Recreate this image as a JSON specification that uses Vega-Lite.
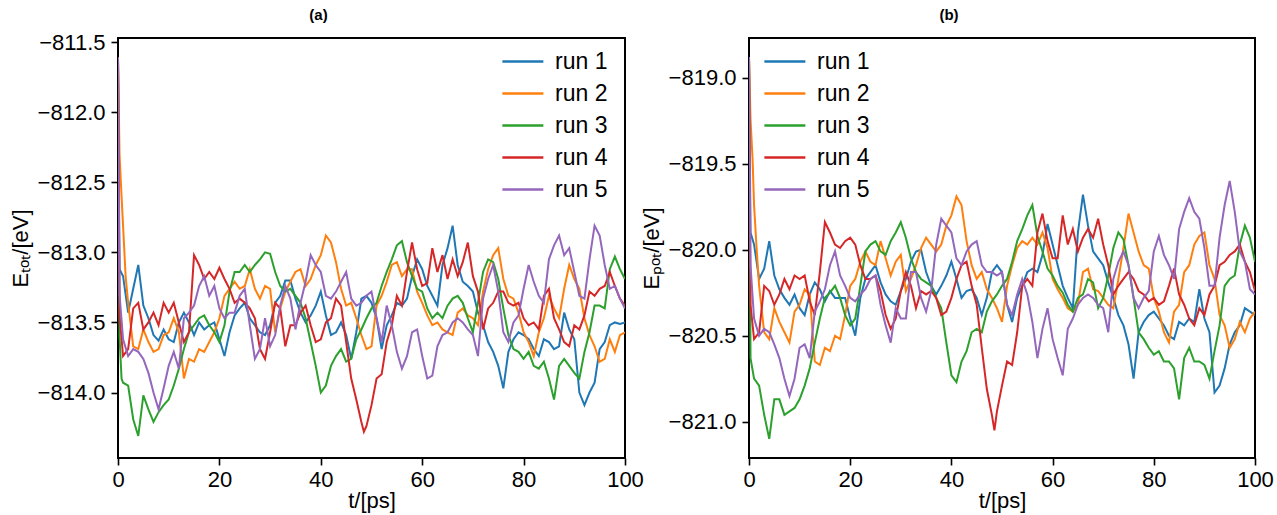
{
"$schema": "https://vega.github.io/schema/vega-lite/v6.json",
"background": "white",
"autosize": {"type": "pad"},
"padding": {"left": 8, "top": 7, "right": 5, "bottom": 2},
"config": {
  "font": "Liberation Sans",
  "view": {"stroke": "black", "strokeWidth": 2},
  "axis": {"domain": false, "grid": false, "ticks": true, "tickColor": "black", "tickSize": 7, "tickWidth": 1.6, "labelFont": "Liberation Sans", "labelFontSize": 22, "labelColor": "black", "titleFont": "Liberation Sans", "titleFontSize": 22, "titleFontWeight": "normal", "titleColor": "black"},
  "legend": {"symbolType": "M-1,0H7", "symbolSize": 105, "symbolStrokeWidth": 2.5, "labelFont": "Liberation Sans", "labelFontSize": 23, "labelColor": "black", "labelOffset": 36, "rowPadding": 8, "padding": 0},
  "title": {"font": "Liberation Sans", "fontSize": 15, "fontWeight": "bold", "offset": 15, "color": "black", "dx": -53, "frame": "group"}
},
"datasets": {
"a": [
{"t":0,"r":"run 1","E":-811.61},{"t":0.3,"r":"run 1","E":-813.12},{"t":1,"r":"run 1","E":-813.17},{"t":2,"r":"run 1","E":-813.43},{"t":3,"r":"run 1","E":-813.26},{"t":4,"r":"run 1","E":-813.09},{"t":5,"r":"run 1","E":-813.38},{"t":6,"r":"run 1","E":-813.47},{"t":7,"r":"run 1","E":-813.59},{"t":8,"r":"run 1","E":-813.63},{"t":9,"r":"run 1","E":-813.55},{"t":10,"r":"run 1","E":-813.62},{"t":11,"r":"run 1","E":-813.64},{"t":12,"r":"run 1","E":-813.5},{"t":13,"r":"run 1","E":-813.43},{"t":14,"r":"run 1","E":-813.5},{"t":15,"r":"run 1","E":-813.59},{"t":16,"r":"run 1","E":-813.5},{"t":17,"r":"run 1","E":-813.55},{"t":18,"r":"run 1","E":-813.52},{"t":19,"r":"run 1","E":-813.5},{"t":20,"r":"run 1","E":-813.62},{"t":21,"r":"run 1","E":-813.74},{"t":22,"r":"run 1","E":-813.57},{"t":23,"r":"run 1","E":-813.45},{"t":24,"r":"run 1","E":-813.4},{"t":25,"r":"run 1","E":-813.36},{"t":26,"r":"run 1","E":-813.47},{"t":27,"r":"run 1","E":-813.52},{"t":28,"r":"run 1","E":-813.57},{"t":29,"r":"run 1","E":-813.59},{"t":30,"r":"run 1","E":-813.52},{"t":31,"r":"run 1","E":-813.36},{"t":32,"r":"run 1","E":-813.31},{"t":33,"r":"run 1","E":-813.2},{"t":34,"r":"run 1","E":-813.2},{"t":35,"r":"run 1","E":-813.33},{"t":36,"r":"run 1","E":-813.43},{"t":37,"r":"run 1","E":-813.5},{"t":38,"r":"run 1","E":-813.45},{"t":39,"r":"run 1","E":-813.38},{"t":40,"r":"run 1","E":-813.28},{"t":41,"r":"run 1","E":-813.45},{"t":42,"r":"run 1","E":-813.59},{"t":43,"r":"run 1","E":-813.57},{"t":44,"r":"run 1","E":-813.5},{"t":45,"r":"run 1","E":-813.59},{"t":46,"r":"run 1","E":-813.76},{"t":47,"r":"run 1","E":-813.57},{"t":48,"r":"run 1","E":-813.33},{"t":49,"r":"run 1","E":-813.31},{"t":50,"r":"run 1","E":-813.36},{"t":51,"r":"run 1","E":-813.47},{"t":52,"r":"run 1","E":-813.69},{"t":53,"r":"run 1","E":-813.52},{"t":54,"r":"run 1","E":-813.45},{"t":55,"r":"run 1","E":-813.36},{"t":56,"r":"run 1","E":-813.38},{"t":57,"r":"run 1","E":-813.33},{"t":58,"r":"run 1","E":-813.17},{"t":59,"r":"run 1","E":-813.05},{"t":60,"r":"run 1","E":-813.12},{"t":61,"r":"run 1","E":-813.24},{"t":62,"r":"run 1","E":-813.31},{"t":63,"r":"run 1","E":-813.38},{"t":64,"r":"run 1","E":-813.09},{"t":65,"r":"run 1","E":-812.97},{"t":66,"r":"run 1","E":-812.81},{"t":67,"r":"run 1","E":-813.09},{"t":68,"r":"run 1","E":-813.21},{"t":69,"r":"run 1","E":-813.24},{"t":70,"r":"run 1","E":-813.28},{"t":71,"r":"run 1","E":-813.43},{"t":72,"r":"run 1","E":-813.52},{"t":73,"r":"run 1","E":-813.64},{"t":74,"r":"run 1","E":-813.71},{"t":75,"r":"run 1","E":-813.81},{"t":76,"r":"run 1","E":-813.97},{"t":77,"r":"run 1","E":-813.71},{"t":78,"r":"run 1","E":-813.62},{"t":79,"r":"run 1","E":-813.57},{"t":80,"r":"run 1","E":-813.59},{"t":81,"r":"run 1","E":-813.62},{"t":82,"r":"run 1","E":-813.69},{"t":83,"r":"run 1","E":-813.74},{"t":84,"r":"run 1","E":-813.62},{"t":85,"r":"run 1","E":-813.64},{"t":86,"r":"run 1","E":-813.69},{"t":87,"r":"run 1","E":-813.67},{"t":88,"r":"run 1","E":-813.43},{"t":89,"r":"run 1","E":-813.55},{"t":90,"r":"run 1","E":-813.62},{"t":91,"r":"run 1","E":-814.0},{"t":92,"r":"run 1","E":-814.09},{"t":93,"r":"run 1","E":-814.0},{"t":94,"r":"run 1","E":-813.93},{"t":95,"r":"run 1","E":-813.69},{"t":96,"r":"run 1","E":-813.64},{"t":97,"r":"run 1","E":-813.52},{"t":98,"r":"run 1","E":-813.5},{"t":99,"r":"run 1","E":-813.51},{"t":100,"r":"run 1","E":-813.5},
{"t":0,"r":"run 2","E":-811.61},{"t":0.3,"r":"run 2","E":-812.3},{"t":0.7,"r":"run 2","E":-812.6},{"t":1,"r":"run 2","E":-812.81},{"t":1.5,"r":"run 2","E":-813.17},{"t":2,"r":"run 2","E":-813.36},{"t":3,"r":"run 2","E":-813.67},{"t":4,"r":"run 2","E":-813.69},{"t":5,"r":"run 2","E":-813.55},{"t":6,"r":"run 2","E":-813.64},{"t":7,"r":"run 2","E":-813.71},{"t":8,"r":"run 2","E":-813.69},{"t":9,"r":"run 2","E":-813.59},{"t":10,"r":"run 2","E":-813.57},{"t":11,"r":"run 2","E":-813.47},{"t":12,"r":"run 2","E":-813.57},{"t":13,"r":"run 2","E":-813.9},{"t":14,"r":"run 2","E":-813.76},{"t":15,"r":"run 2","E":-813.78},{"t":16,"r":"run 2","E":-813.69},{"t":17,"r":"run 2","E":-813.71},{"t":18,"r":"run 2","E":-813.64},{"t":19,"r":"run 2","E":-813.57},{"t":20,"r":"run 2","E":-813.47},{"t":21,"r":"run 2","E":-813.31},{"t":22,"r":"run 2","E":-813.26},{"t":23,"r":"run 2","E":-813.21},{"t":24,"r":"run 2","E":-813.26},{"t":25,"r":"run 2","E":-813.24},{"t":26,"r":"run 2","E":-813.12},{"t":27,"r":"run 2","E":-813.26},{"t":28,"r":"run 2","E":-813.33},{"t":29,"r":"run 2","E":-813.24},{"t":30,"r":"run 2","E":-813.26},{"t":31,"r":"run 2","E":-813.57},{"t":32,"r":"run 2","E":-813.4},{"t":33,"r":"run 2","E":-813.28},{"t":34,"r":"run 2","E":-813.21},{"t":35,"r":"run 2","E":-813.14},{"t":36,"r":"run 2","E":-813.12},{"t":37,"r":"run 2","E":-813.24},{"t":38,"r":"run 2","E":-813.19},{"t":39,"r":"run 2","E":-813.09},{"t":40,"r":"run 2","E":-813.02},{"t":41,"r":"run 2","E":-812.88},{"t":42,"r":"run 2","E":-812.93},{"t":43,"r":"run 2","E":-813.07},{"t":44,"r":"run 2","E":-813.26},{"t":45,"r":"run 2","E":-813.38},{"t":46,"r":"run 2","E":-813.36},{"t":47,"r":"run 2","E":-813.47},{"t":48,"r":"run 2","E":-813.59},{"t":49,"r":"run 2","E":-813.69},{"t":50,"r":"run 2","E":-813.67},{"t":51,"r":"run 2","E":-813.38},{"t":52,"r":"run 2","E":-813.31},{"t":53,"r":"run 2","E":-813.21},{"t":54,"r":"run 2","E":-813.09},{"t":55,"r":"run 2","E":-813.07},{"t":56,"r":"run 2","E":-813.17},{"t":57,"r":"run 2","E":-813.12},{"t":58,"r":"run 2","E":-813.12},{"t":59,"r":"run 2","E":-813.28},{"t":60,"r":"run 2","E":-813.36},{"t":61,"r":"run 2","E":-813.45},{"t":62,"r":"run 2","E":-813.52},{"t":63,"r":"run 2","E":-813.5},{"t":64,"r":"run 2","E":-813.55},{"t":65,"r":"run 2","E":-813.57},{"t":66,"r":"run 2","E":-813.59},{"t":67,"r":"run 2","E":-813.43},{"t":68,"r":"run 2","E":-813.4},{"t":69,"r":"run 2","E":-813.45},{"t":70,"r":"run 2","E":-813.47},{"t":71,"r":"run 2","E":-813.52},{"t":72,"r":"run 2","E":-813.28},{"t":73,"r":"run 2","E":-813.12},{"t":74,"r":"run 2","E":-813.02},{"t":75,"r":"run 2","E":-812.97},{"t":76,"r":"run 2","E":-813.19},{"t":77,"r":"run 2","E":-813.31},{"t":78,"r":"run 2","E":-813.33},{"t":79,"r":"run 2","E":-813.43},{"t":80,"r":"run 2","E":-813.57},{"t":81,"r":"run 2","E":-813.64},{"t":82,"r":"run 2","E":-813.74},{"t":83,"r":"run 2","E":-813.57},{"t":84,"r":"run 2","E":-813.47},{"t":85,"r":"run 2","E":-813.31},{"t":86,"r":"run 2","E":-813.4},{"t":87,"r":"run 2","E":-813.47},{"t":88,"r":"run 2","E":-813.26},{"t":89,"r":"run 2","E":-813.09},{"t":90,"r":"run 2","E":-813.19},{"t":91,"r":"run 2","E":-813.26},{"t":92,"r":"run 2","E":-813.47},{"t":93,"r":"run 2","E":-813.59},{"t":94,"r":"run 2","E":-813.67},{"t":95,"r":"run 2","E":-813.78},{"t":96,"r":"run 2","E":-813.76},{"t":97,"r":"run 2","E":-813.62},{"t":98,"r":"run 2","E":-813.71},{"t":99,"r":"run 2","E":-813.59},{"t":100,"r":"run 2","E":-813.57},
{"t":0,"r":"run 3","E":-811.61},{"t":0.3,"r":"run 3","E":-813.6},{"t":0.7,"r":"run 3","E":-813.9},{"t":1,"r":"run 3","E":-813.93},{"t":2,"r":"run 3","E":-813.95},{"t":3,"r":"run 3","E":-814.19},{"t":4,"r":"run 3","E":-814.31},{"t":5,"r":"run 3","E":-814.02},{"t":6,"r":"run 3","E":-814.12},{"t":7,"r":"run 3","E":-814.21},{"t":8,"r":"run 3","E":-814.14},{"t":9,"r":"run 3","E":-814.09},{"t":10,"r":"run 3","E":-814.05},{"t":11,"r":"run 3","E":-813.95},{"t":12,"r":"run 3","E":-813.83},{"t":13,"r":"run 3","E":-813.69},{"t":14,"r":"run 3","E":-813.57},{"t":15,"r":"run 3","E":-813.52},{"t":16,"r":"run 3","E":-813.47},{"t":17,"r":"run 3","E":-813.45},{"t":18,"r":"run 3","E":-813.52},{"t":19,"r":"run 3","E":-813.57},{"t":20,"r":"run 3","E":-813.64},{"t":21,"r":"run 3","E":-813.52},{"t":22,"r":"run 3","E":-813.28},{"t":23,"r":"run 3","E":-813.14},{"t":24,"r":"run 3","E":-813.14},{"t":25,"r":"run 3","E":-813.09},{"t":26,"r":"run 3","E":-813.14},{"t":27,"r":"run 3","E":-813.09},{"t":28,"r":"run 3","E":-813.05},{"t":29,"r":"run 3","E":-813.0},{"t":30,"r":"run 3","E":-813.01},{"t":31,"r":"run 3","E":-813.14},{"t":32,"r":"run 3","E":-813.24},{"t":33,"r":"run 3","E":-813.28},{"t":34,"r":"run 3","E":-813.26},{"t":35,"r":"run 3","E":-813.31},{"t":36,"r":"run 3","E":-813.36},{"t":37,"r":"run 3","E":-813.47},{"t":38,"r":"run 3","E":-813.64},{"t":39,"r":"run 3","E":-813.81},{"t":40,"r":"run 3","E":-814.0},{"t":41,"r":"run 3","E":-813.95},{"t":42,"r":"run 3","E":-813.81},{"t":43,"r":"run 3","E":-813.74},{"t":44,"r":"run 3","E":-813.69},{"t":45,"r":"run 3","E":-813.78},{"t":46,"r":"run 3","E":-813.76},{"t":47,"r":"run 3","E":-813.62},{"t":48,"r":"run 3","E":-813.55},{"t":49,"r":"run 3","E":-813.47},{"t":50,"r":"run 3","E":-813.4},{"t":51,"r":"run 3","E":-813.36},{"t":52,"r":"run 3","E":-813.24},{"t":53,"r":"run 3","E":-813.14},{"t":54,"r":"run 3","E":-813.05},{"t":55,"r":"run 3","E":-812.95},{"t":56,"r":"run 3","E":-812.92},{"t":57,"r":"run 3","E":-813.07},{"t":58,"r":"run 3","E":-813.17},{"t":59,"r":"run 3","E":-813.26},{"t":60,"r":"run 3","E":-813.28},{"t":61,"r":"run 3","E":-813.4},{"t":62,"r":"run 3","E":-813.47},{"t":63,"r":"run 3","E":-813.43},{"t":64,"r":"run 3","E":-813.47},{"t":65,"r":"run 3","E":-813.38},{"t":66,"r":"run 3","E":-813.33},{"t":67,"r":"run 3","E":-813.31},{"t":68,"r":"run 3","E":-813.36},{"t":69,"r":"run 3","E":-813.47},{"t":70,"r":"run 3","E":-813.57},{"t":71,"r":"run 3","E":-813.36},{"t":72,"r":"run 3","E":-813.14},{"t":73,"r":"run 3","E":-813.05},{"t":74,"r":"run 3","E":-813.07},{"t":75,"r":"run 3","E":-813.19},{"t":76,"r":"run 3","E":-813.4},{"t":77,"r":"run 3","E":-813.59},{"t":78,"r":"run 3","E":-813.69},{"t":79,"r":"run 3","E":-813.71},{"t":80,"r":"run 3","E":-813.76},{"t":81,"r":"run 3","E":-813.71},{"t":82,"r":"run 3","E":-813.81},{"t":83,"r":"run 3","E":-813.83},{"t":84,"r":"run 3","E":-813.78},{"t":85,"r":"run 3","E":-813.9},{"t":86,"r":"run 3","E":-814.05},{"t":87,"r":"run 3","E":-813.81},{"t":88,"r":"run 3","E":-813.76},{"t":89,"r":"run 3","E":-813.81},{"t":90,"r":"run 3","E":-813.86},{"t":91,"r":"run 3","E":-813.9},{"t":92,"r":"run 3","E":-813.71},{"t":93,"r":"run 3","E":-813.57},{"t":94,"r":"run 3","E":-813.38},{"t":95,"r":"run 3","E":-813.38},{"t":96,"r":"run 3","E":-813.4},{"t":97,"r":"run 3","E":-813.12},{"t":98,"r":"run 3","E":-813.03},{"t":99,"r":"run 3","E":-813.12},{"t":100,"r":"run 3","E":-813.19},
{"t":0,"r":"run 4","E":-811.61},{"t":0.3,"r":"run 4","E":-813.45},{"t":1,"r":"run 4","E":-813.74},{"t":2,"r":"run 4","E":-813.69},{"t":3,"r":"run 4","E":-813.4},{"t":4,"r":"run 4","E":-813.36},{"t":5,"r":"run 4","E":-813.55},{"t":6,"r":"run 4","E":-813.5},{"t":7,"r":"run 4","E":-813.43},{"t":8,"r":"run 4","E":-813.52},{"t":9,"r":"run 4","E":-813.36},{"t":10,"r":"run 4","E":-813.43},{"t":11,"r":"run 4","E":-813.36},{"t":12,"r":"run 4","E":-813.5},{"t":13,"r":"run 4","E":-813.64},{"t":14,"r":"run 4","E":-813.57},{"t":15,"r":"run 4","E":-813.02},{"t":16,"r":"run 4","E":-813.09},{"t":17,"r":"run 4","E":-813.19},{"t":18,"r":"run 4","E":-813.14},{"t":19,"r":"run 4","E":-813.19},{"t":20,"r":"run 4","E":-813.11},{"t":21,"r":"run 4","E":-813.19},{"t":22,"r":"run 4","E":-813.26},{"t":23,"r":"run 4","E":-813.36},{"t":24,"r":"run 4","E":-813.33},{"t":25,"r":"run 4","E":-813.36},{"t":26,"r":"run 4","E":-813.4},{"t":27,"r":"run 4","E":-813.47},{"t":28,"r":"run 4","E":-813.69},{"t":29,"r":"run 4","E":-813.76},{"t":30,"r":"run 4","E":-813.57},{"t":31,"r":"run 4","E":-813.36},{"t":32,"r":"run 4","E":-813.4},{"t":33,"r":"run 4","E":-813.67},{"t":34,"r":"run 4","E":-813.52},{"t":35,"r":"run 4","E":-813.52},{"t":36,"r":"run 4","E":-813.43},{"t":37,"r":"run 4","E":-813.38},{"t":38,"r":"run 4","E":-813.52},{"t":39,"r":"run 4","E":-813.64},{"t":40,"r":"run 4","E":-813.62},{"t":41,"r":"run 4","E":-813.5},{"t":42,"r":"run 4","E":-813.47},{"t":43,"r":"run 4","E":-813.33},{"t":44,"r":"run 4","E":-813.38},{"t":45,"r":"run 4","E":-813.64},{"t":46,"r":"run 4","E":-813.9},{"t":47,"r":"run 4","E":-814.05},{"t":48,"r":"run 4","E":-814.21},{"t":48.5,"r":"run 4","E":-814.28},{"t":49,"r":"run 4","E":-814.24},{"t":50,"r":"run 4","E":-814.09},{"t":51,"r":"run 4","E":-813.9},{"t":52,"r":"run 4","E":-813.87},{"t":53,"r":"run 4","E":-813.64},{"t":54,"r":"run 4","E":-813.52},{"t":55,"r":"run 4","E":-813.31},{"t":56,"r":"run 4","E":-813.38},{"t":57,"r":"run 4","E":-813.14},{"t":58,"r":"run 4","E":-812.93},{"t":59,"r":"run 4","E":-813.12},{"t":60,"r":"run 4","E":-813.24},{"t":61,"r":"run 4","E":-813.22},{"t":62,"r":"run 4","E":-812.97},{"t":63,"r":"run 4","E":-813.14},{"t":64,"r":"run 4","E":-813.02},{"t":65,"r":"run 4","E":-813.19},{"t":66,"r":"run 4","E":-813.05},{"t":67,"r":"run 4","E":-813.17},{"t":68,"r":"run 4","E":-813.07},{"t":69,"r":"run 4","E":-812.93},{"t":70,"r":"run 4","E":-813.17},{"t":71,"r":"run 4","E":-813.28},{"t":72,"r":"run 4","E":-813.55},{"t":73,"r":"run 4","E":-813.4},{"t":74,"r":"run 4","E":-813.36},{"t":75,"r":"run 4","E":-813.28},{"t":76,"r":"run 4","E":-813.28},{"t":77,"r":"run 4","E":-813.36},{"t":78,"r":"run 4","E":-813.38},{"t":79,"r":"run 4","E":-813.36},{"t":80,"r":"run 4","E":-813.47},{"t":81,"r":"run 4","E":-813.52},{"t":82,"r":"run 4","E":-813.5},{"t":83,"r":"run 4","E":-813.55},{"t":84,"r":"run 4","E":-813.31},{"t":85,"r":"run 4","E":-813.26},{"t":86,"r":"run 4","E":-813.47},{"t":87,"r":"run 4","E":-813.55},{"t":88,"r":"run 4","E":-813.64},{"t":89,"r":"run 4","E":-813.67},{"t":90,"r":"run 4","E":-813.52},{"t":91,"r":"run 4","E":-813.55},{"t":92,"r":"run 4","E":-813.45},{"t":93,"r":"run 4","E":-813.28},{"t":94,"r":"run 4","E":-813.31},{"t":95,"r":"run 4","E":-813.26},{"t":96,"r":"run 4","E":-813.24},{"t":97,"r":"run 4","E":-813.14},{"t":98,"r":"run 4","E":-813.24},{"t":99,"r":"run 4","E":-813.33},{"t":100,"r":"run 4","E":-813.38},
{"t":0,"r":"run 5","E":-811.61},{"t":0.3,"r":"run 5","E":-813.3},{"t":1,"r":"run 5","E":-813.62},{"t":2,"r":"run 5","E":-813.74},{"t":3,"r":"run 5","E":-813.69},{"t":4,"r":"run 5","E":-813.71},{"t":5,"r":"run 5","E":-813.76},{"t":6,"r":"run 5","E":-813.86},{"t":7,"r":"run 5","E":-814.0},{"t":8,"r":"run 5","E":-814.12},{"t":9,"r":"run 5","E":-813.97},{"t":10,"r":"run 5","E":-813.81},{"t":11,"r":"run 5","E":-813.71},{"t":12,"r":"run 5","E":-813.83},{"t":13,"r":"run 5","E":-813.47},{"t":14,"r":"run 5","E":-813.43},{"t":15,"r":"run 5","E":-813.38},{"t":16,"r":"run 5","E":-813.24},{"t":17,"r":"run 5","E":-813.17},{"t":18,"r":"run 5","E":-813.31},{"t":19,"r":"run 5","E":-813.24},{"t":20,"r":"run 5","E":-813.4},{"t":21,"r":"run 5","E":-813.47},{"t":22,"r":"run 5","E":-813.43},{"t":23,"r":"run 5","E":-813.43},{"t":24,"r":"run 5","E":-813.31},{"t":25,"r":"run 5","E":-813.26},{"t":26,"r":"run 5","E":-813.52},{"t":27,"r":"run 5","E":-813.76},{"t":28,"r":"run 5","E":-813.69},{"t":29,"r":"run 5","E":-813.47},{"t":30,"r":"run 5","E":-813.67},{"t":31,"r":"run 5","E":-813.59},{"t":32,"r":"run 5","E":-813.38},{"t":33,"r":"run 5","E":-813.24},{"t":34,"r":"run 5","E":-813.33},{"t":35,"r":"run 5","E":-813.55},{"t":36,"r":"run 5","E":-813.36},{"t":37,"r":"run 5","E":-813.21},{"t":38,"r":"run 5","E":-813.02},{"t":39,"r":"run 5","E":-813.09},{"t":40,"r":"run 5","E":-813.14},{"t":41,"r":"run 5","E":-813.31},{"t":42,"r":"run 5","E":-813.33},{"t":43,"r":"run 5","E":-813.28},{"t":44,"r":"run 5","E":-813.21},{"t":45,"r":"run 5","E":-813.14},{"t":46,"r":"run 5","E":-813.33},{"t":47,"r":"run 5","E":-813.38},{"t":48,"r":"run 5","E":-813.36},{"t":49,"r":"run 5","E":-813.31},{"t":50,"r":"run 5","E":-813.28},{"t":51,"r":"run 5","E":-813.47},{"t":52,"r":"run 5","E":-813.64},{"t":53,"r":"run 5","E":-813.38},{"t":54,"r":"run 5","E":-813.52},{"t":55,"r":"run 5","E":-813.71},{"t":56,"r":"run 5","E":-813.83},{"t":57,"r":"run 5","E":-813.74},{"t":58,"r":"run 5","E":-813.57},{"t":59,"r":"run 5","E":-813.55},{"t":60,"r":"run 5","E":-813.74},{"t":61,"r":"run 5","E":-813.9},{"t":62,"r":"run 5","E":-813.88},{"t":63,"r":"run 5","E":-813.67},{"t":64,"r":"run 5","E":-813.59},{"t":65,"r":"run 5","E":-813.57},{"t":66,"r":"run 5","E":-813.5},{"t":67,"r":"run 5","E":-813.47},{"t":68,"r":"run 5","E":-813.5},{"t":69,"r":"run 5","E":-813.55},{"t":70,"r":"run 5","E":-813.59},{"t":71,"r":"run 5","E":-813.74},{"t":72,"r":"run 5","E":-813.33},{"t":73,"r":"run 5","E":-813.19},{"t":74,"r":"run 5","E":-813.09},{"t":75,"r":"run 5","E":-813.28},{"t":76,"r":"run 5","E":-813.57},{"t":77,"r":"run 5","E":-813.64},{"t":78,"r":"run 5","E":-813.5},{"t":79,"r":"run 5","E":-813.45},{"t":80,"r":"run 5","E":-813.26},{"t":81,"r":"run 5","E":-813.09},{"t":82,"r":"run 5","E":-813.21},{"t":83,"r":"run 5","E":-813.31},{"t":84,"r":"run 5","E":-813.36},{"t":85,"r":"run 5","E":-813.05},{"t":86,"r":"run 5","E":-812.95},{"t":87,"r":"run 5","E":-812.88},{"t":88,"r":"run 5","E":-813.02},{"t":89,"r":"run 5","E":-812.97},{"t":90,"r":"run 5","E":-813.14},{"t":91,"r":"run 5","E":-813.31},{"t":92,"r":"run 5","E":-813.33},{"t":93,"r":"run 5","E":-813.05},{"t":94,"r":"run 5","E":-812.81},{"t":95,"r":"run 5","E":-812.88},{"t":96,"r":"run 5","E":-813.09},{"t":97,"r":"run 5","E":-813.26},{"t":98,"r":"run 5","E":-813.24},{"t":99,"r":"run 5","E":-813.33},{"t":100,"r":"run 5","E":-813.4}
],
"b": [
{"t":0,"r":"run 1","E":-818.88},{"t":0.3,"r":"run 1","E":-819.9},{"t":1,"r":"run 1","E":-819.97},{"t":2,"r":"run 1","E":-820.17},{"t":3,"r":"run 1","E":-820.11},{"t":4,"r":"run 1","E":-819.95},{"t":5,"r":"run 1","E":-820.15},{"t":6,"r":"run 1","E":-820.23},{"t":7,"r":"run 1","E":-820.28},{"t":8,"r":"run 1","E":-820.32},{"t":9,"r":"run 1","E":-820.26},{"t":10,"r":"run 1","E":-820.34},{"t":11,"r":"run 1","E":-820.38},{"t":12,"r":"run 1","E":-820.26},{"t":13,"r":"run 1","E":-820.19},{"t":14,"r":"run 1","E":-820.23},{"t":15,"r":"run 1","E":-820.3},{"t":16,"r":"run 1","E":-820.24},{"t":17,"r":"run 1","E":-820.28},{"t":18,"r":"run 1","E":-820.28},{"t":19,"r":"run 1","E":-820.28},{"t":20,"r":"run 1","E":-820.4},{"t":21,"r":"run 1","E":-820.5},{"t":22,"r":"run 1","E":-820.28},{"t":23,"r":"run 1","E":-820.17},{"t":24,"r":"run 1","E":-820.13},{"t":25,"r":"run 1","E":-820.09},{"t":26,"r":"run 1","E":-820.19},{"t":27,"r":"run 1","E":-820.26},{"t":28,"r":"run 1","E":-820.3},{"t":29,"r":"run 1","E":-820.32},{"t":30,"r":"run 1","E":-820.24},{"t":31,"r":"run 1","E":-820.17},{"t":32,"r":"run 1","E":-820.07},{"t":33,"r":"run 1","E":-820.01},{"t":34,"r":"run 1","E":-820.0},{"t":35,"r":"run 1","E":-820.13},{"t":36,"r":"run 1","E":-820.21},{"t":37,"r":"run 1","E":-820.26},{"t":38,"r":"run 1","E":-820.21},{"t":39,"r":"run 1","E":-820.15},{"t":40,"r":"run 1","E":-820.07},{"t":41,"r":"run 1","E":-820.17},{"t":42,"r":"run 1","E":-820.28},{"t":43,"r":"run 1","E":-820.24},{"t":44,"r":"run 1","E":-820.23},{"t":45,"r":"run 1","E":-820.28},{"t":46,"r":"run 1","E":-820.38},{"t":47,"r":"run 1","E":-820.28},{"t":48,"r":"run 1","E":-820.13},{"t":49,"r":"run 1","E":-820.09},{"t":50,"r":"run 1","E":-820.13},{"t":51,"r":"run 1","E":-820.32},{"t":52,"r":"run 1","E":-820.42},{"t":53,"r":"run 1","E":-820.28},{"t":54,"r":"run 1","E":-820.21},{"t":55,"r":"run 1","E":-820.13},{"t":56,"r":"run 1","E":-820.11},{"t":57,"r":"run 1","E":-820.13},{"t":58,"r":"run 1","E":-820.03},{"t":59,"r":"run 1","E":-819.85},{"t":60,"r":"run 1","E":-819.97},{"t":61,"r":"run 1","E":-820.09},{"t":62,"r":"run 1","E":-820.21},{"t":63,"r":"run 1","E":-820.28},{"t":64,"r":"run 1","E":-820.34},{"t":65,"r":"run 1","E":-819.9},{"t":66,"r":"run 1","E":-819.68},{"t":67,"r":"run 1","E":-819.86},{"t":68,"r":"run 1","E":-820.01},{"t":69,"r":"run 1","E":-820.05},{"t":70,"r":"run 1","E":-820.09},{"t":71,"r":"run 1","E":-820.19},{"t":72,"r":"run 1","E":-820.28},{"t":73,"r":"run 1","E":-820.38},{"t":74,"r":"run 1","E":-820.44},{"t":75,"r":"run 1","E":-820.55},{"t":76,"r":"run 1","E":-820.75},{"t":77,"r":"run 1","E":-820.48},{"t":78,"r":"run 1","E":-820.42},{"t":79,"r":"run 1","E":-820.38},{"t":80,"r":"run 1","E":-820.36},{"t":81,"r":"run 1","E":-820.4},{"t":82,"r":"run 1","E":-820.44},{"t":83,"r":"run 1","E":-820.5},{"t":84,"r":"run 1","E":-820.52},{"t":85,"r":"run 1","E":-820.42},{"t":86,"r":"run 1","E":-820.44},{"t":87,"r":"run 1","E":-820.4},{"t":88,"r":"run 1","E":-820.42},{"t":89,"r":"run 1","E":-820.23},{"t":90,"r":"run 1","E":-820.4},{"t":91,"r":"run 1","E":-820.48},{"t":92,"r":"run 1","E":-820.83},{"t":93,"r":"run 1","E":-820.79},{"t":94,"r":"run 1","E":-820.69},{"t":95,"r":"run 1","E":-820.55},{"t":96,"r":"run 1","E":-820.48},{"t":97,"r":"run 1","E":-820.44},{"t":98,"r":"run 1","E":-820.34},{"t":99,"r":"run 1","E":-820.36},{"t":100,"r":"run 1","E":-820.38},
{"t":0,"r":"run 2","E":-818.88},{"t":0.3,"r":"run 2","E":-819.24},{"t":0.7,"r":"run 2","E":-819.47},{"t":1,"r":"run 2","E":-819.74},{"t":1.5,"r":"run 2","E":-819.99},{"t":2,"r":"run 2","E":-820.21},{"t":3,"r":"run 2","E":-820.48},{"t":4,"r":"run 2","E":-820.52},{"t":5,"r":"run 2","E":-820.34},{"t":6,"r":"run 2","E":-820.42},{"t":7,"r":"run 2","E":-820.48},{"t":8,"r":"run 2","E":-820.54},{"t":9,"r":"run 2","E":-820.36},{"t":10,"r":"run 2","E":-820.32},{"t":11,"r":"run 2","E":-820.23},{"t":12,"r":"run 2","E":-820.26},{"t":13,"r":"run 2","E":-820.65},{"t":14,"r":"run 2","E":-820.67},{"t":15,"r":"run 2","E":-820.57},{"t":16,"r":"run 2","E":-820.59},{"t":17,"r":"run 2","E":-820.5},{"t":18,"r":"run 2","E":-820.52},{"t":19,"r":"run 2","E":-820.38},{"t":20,"r":"run 2","E":-820.21},{"t":21,"r":"run 2","E":-820.17},{"t":22,"r":"run 2","E":-820.07},{"t":23,"r":"run 2","E":-820.01},{"t":24,"r":"run 2","E":-820.07},{"t":25,"r":"run 2","E":-820.09},{"t":26,"r":"run 2","E":-819.95},{"t":27,"r":"run 2","E":-820.05},{"t":28,"r":"run 2","E":-820.15},{"t":29,"r":"run 2","E":-820.07},{"t":30,"r":"run 2","E":-820.03},{"t":31,"r":"run 2","E":-820.24},{"t":32,"r":"run 2","E":-820.17},{"t":33,"r":"run 2","E":-820.09},{"t":34,"r":"run 2","E":-819.99},{"t":35,"r":"run 2","E":-819.93},{"t":36,"r":"run 2","E":-819.97},{"t":37,"r":"run 2","E":-820.01},{"t":38,"r":"run 2","E":-819.97},{"t":39,"r":"run 2","E":-819.86},{"t":40,"r":"run 2","E":-819.8},{"t":41,"r":"run 2","E":-819.69},{"t":42,"r":"run 2","E":-819.74},{"t":43,"r":"run 2","E":-819.95},{"t":44,"r":"run 2","E":-820.09},{"t":45,"r":"run 2","E":-820.17},{"t":46,"r":"run 2","E":-820.13},{"t":47,"r":"run 2","E":-820.23},{"t":48,"r":"run 2","E":-820.28},{"t":49,"r":"run 2","E":-820.34},{"t":50,"r":"run 2","E":-820.42},{"t":51,"r":"run 2","E":-820.21},{"t":52,"r":"run 2","E":-820.09},{"t":53,"r":"run 2","E":-819.99},{"t":54,"r":"run 2","E":-819.95},{"t":55,"r":"run 2","E":-819.97},{"t":56,"r":"run 2","E":-819.93},{"t":57,"r":"run 2","E":-819.97},{"t":58,"r":"run 2","E":-819.9},{"t":59,"r":"run 2","E":-819.99},{"t":60,"r":"run 2","E":-820.17},{"t":61,"r":"run 2","E":-820.23},{"t":62,"r":"run 2","E":-820.28},{"t":63,"r":"run 2","E":-820.34},{"t":64,"r":"run 2","E":-820.36},{"t":65,"r":"run 2","E":-820.32},{"t":66,"r":"run 2","E":-820.13},{"t":67,"r":"run 2","E":-820.11},{"t":68,"r":"run 2","E":-820.23},{"t":69,"r":"run 2","E":-820.24},{"t":70,"r":"run 2","E":-820.28},{"t":71,"r":"run 2","E":-820.32},{"t":72,"r":"run 2","E":-820.34},{"t":73,"r":"run 2","E":-820.17},{"t":74,"r":"run 2","E":-819.99},{"t":75,"r":"run 2","E":-819.79},{"t":76,"r":"run 2","E":-819.9},{"t":77,"r":"run 2","E":-820.01},{"t":78,"r":"run 2","E":-820.09},{"t":79,"r":"run 2","E":-820.11},{"t":80,"r":"run 2","E":-820.28},{"t":81,"r":"run 2","E":-820.36},{"t":82,"r":"run 2","E":-820.48},{"t":83,"r":"run 2","E":-820.54},{"t":84,"r":"run 2","E":-820.36},{"t":85,"r":"run 2","E":-820.32},{"t":86,"r":"run 2","E":-820.13},{"t":87,"r":"run 2","E":-820.09},{"t":88,"r":"run 2","E":-819.97},{"t":89,"r":"run 2","E":-819.92},{"t":90,"r":"run 2","E":-819.9},{"t":91,"r":"run 2","E":-820.09},{"t":92,"r":"run 2","E":-820.17},{"t":93,"r":"run 2","E":-820.38},{"t":94,"r":"run 2","E":-820.44},{"t":95,"r":"run 2","E":-820.57},{"t":96,"r":"run 2","E":-820.52},{"t":97,"r":"run 2","E":-820.42},{"t":98,"r":"run 2","E":-820.48},{"t":99,"r":"run 2","E":-820.4},{"t":100,"r":"run 2","E":-820.36},
{"t":0,"r":"run 3","E":-818.88},{"t":0.3,"r":"run 3","E":-820.63},{"t":1,"r":"run 3","E":-820.75},{"t":2,"r":"run 3","E":-820.79},{"t":3,"r":"run 3","E":-820.96},{"t":4,"r":"run 3","E":-821.1},{"t":5,"r":"run 3","E":-820.87},{"t":6,"r":"run 3","E":-820.87},{"t":7,"r":"run 3","E":-820.96},{"t":8,"r":"run 3","E":-820.94},{"t":9,"r":"run 3","E":-820.92},{"t":10,"r":"run 3","E":-820.87},{"t":11,"r":"run 3","E":-820.79},{"t":12,"r":"run 3","E":-820.69},{"t":13,"r":"run 3","E":-820.54},{"t":14,"r":"run 3","E":-820.4},{"t":15,"r":"run 3","E":-820.28},{"t":16,"r":"run 3","E":-820.25},{"t":17,"r":"run 3","E":-820.21},{"t":18,"r":"run 3","E":-820.28},{"t":19,"r":"run 3","E":-820.38},{"t":20,"r":"run 3","E":-820.44},{"t":21,"r":"run 3","E":-820.4},{"t":22,"r":"run 3","E":-820.21},{"t":23,"r":"run 3","E":-820.01},{"t":24,"r":"run 3","E":-819.97},{"t":25,"r":"run 3","E":-819.95},{"t":26,"r":"run 3","E":-820.01},{"t":27,"r":"run 3","E":-820.03},{"t":28,"r":"run 3","E":-819.95},{"t":29,"r":"run 3","E":-819.9},{"t":30,"r":"run 3","E":-819.84},{"t":31,"r":"run 3","E":-819.93},{"t":32,"r":"run 3","E":-820.05},{"t":33,"r":"run 3","E":-820.13},{"t":34,"r":"run 3","E":-820.17},{"t":35,"r":"run 3","E":-820.19},{"t":36,"r":"run 3","E":-820.21},{"t":37,"r":"run 3","E":-820.28},{"t":38,"r":"run 3","E":-820.34},{"t":39,"r":"run 3","E":-820.54},{"t":40,"r":"run 3","E":-820.73},{"t":41,"r":"run 3","E":-820.77},{"t":42,"r":"run 3","E":-820.65},{"t":43,"r":"run 3","E":-820.59},{"t":44,"r":"run 3","E":-820.48},{"t":45,"r":"run 3","E":-820.46},{"t":46,"r":"run 3","E":-820.48},{"t":47,"r":"run 3","E":-820.36},{"t":48,"r":"run 3","E":-820.3},{"t":49,"r":"run 3","E":-820.26},{"t":50,"r":"run 3","E":-820.21},{"t":51,"r":"run 3","E":-820.17},{"t":52,"r":"run 3","E":-820.07},{"t":53,"r":"run 3","E":-819.95},{"t":54,"r":"run 3","E":-819.88},{"t":55,"r":"run 3","E":-819.8},{"t":56,"r":"run 3","E":-819.74},{"t":57,"r":"run 3","E":-819.92},{"t":58,"r":"run 3","E":-820.01},{"t":59,"r":"run 3","E":-820.11},{"t":60,"r":"run 3","E":-820.15},{"t":61,"r":"run 3","E":-820.21},{"t":62,"r":"run 3","E":-820.25},{"t":63,"r":"run 3","E":-820.32},{"t":64,"r":"run 3","E":-820.36},{"t":65,"r":"run 3","E":-820.28},{"t":66,"r":"run 3","E":-820.26},{"t":67,"r":"run 3","E":-820.17},{"t":68,"r":"run 3","E":-820.19},{"t":69,"r":"run 3","E":-820.34},{"t":70,"r":"run 3","E":-820.28},{"t":71,"r":"run 3","E":-820.15},{"t":72,"r":"run 3","E":-819.99},{"t":73,"r":"run 3","E":-819.9},{"t":74,"r":"run 3","E":-819.94},{"t":75,"r":"run 3","E":-820.09},{"t":76,"r":"run 3","E":-820.28},{"t":77,"r":"run 3","E":-820.48},{"t":78,"r":"run 3","E":-820.52},{"t":79,"r":"run 3","E":-820.57},{"t":80,"r":"run 3","E":-820.61},{"t":81,"r":"run 3","E":-820.59},{"t":82,"r":"run 3","E":-820.65},{"t":83,"r":"run 3","E":-820.65},{"t":84,"r":"run 3","E":-820.69},{"t":85,"r":"run 3","E":-820.87},{"t":86,"r":"run 3","E":-820.63},{"t":87,"r":"run 3","E":-820.57},{"t":88,"r":"run 3","E":-820.65},{"t":89,"r":"run 3","E":-820.65},{"t":90,"r":"run 3","E":-820.67},{"t":91,"r":"run 3","E":-820.75},{"t":92,"r":"run 3","E":-820.59},{"t":93,"r":"run 3","E":-820.44},{"t":94,"r":"run 3","E":-820.21},{"t":95,"r":"run 3","E":-820.17},{"t":96,"r":"run 3","E":-820.15},{"t":97,"r":"run 3","E":-819.97},{"t":98,"r":"run 3","E":-819.86},{"t":99,"r":"run 3","E":-819.93},{"t":100,"r":"run 3","E":-820.07},
{"t":0,"r":"run 4","E":-818.88},{"t":0.3,"r":"run 4","E":-820.32},{"t":1,"r":"run 4","E":-820.52},{"t":2,"r":"run 4","E":-820.48},{"t":3,"r":"run 4","E":-820.21},{"t":4,"r":"run 4","E":-820.24},{"t":5,"r":"run 4","E":-820.32},{"t":6,"r":"run 4","E":-820.26},{"t":7,"r":"run 4","E":-820.17},{"t":8,"r":"run 4","E":-820.23},{"t":9,"r":"run 4","E":-820.15},{"t":10,"r":"run 4","E":-820.17},{"t":11,"r":"run 4","E":-820.15},{"t":12,"r":"run 4","E":-820.3},{"t":13,"r":"run 4","E":-820.38},{"t":14,"r":"run 4","E":-820.13},{"t":15,"r":"run 4","E":-819.84},{"t":16,"r":"run 4","E":-819.9},{"t":17,"r":"run 4","E":-819.97},{"t":18,"r":"run 4","E":-819.99},{"t":19,"r":"run 4","E":-819.95},{"t":20,"r":"run 4","E":-819.93},{"t":21,"r":"run 4","E":-819.97},{"t":22,"r":"run 4","E":-820.09},{"t":23,"r":"run 4","E":-820.17},{"t":24,"r":"run 4","E":-820.17},{"t":25,"r":"run 4","E":-820.15},{"t":26,"r":"run 4","E":-820.24},{"t":27,"r":"run 4","E":-820.38},{"t":28,"r":"run 4","E":-820.46},{"t":29,"r":"run 4","E":-820.4},{"t":30,"r":"run 4","E":-820.24},{"t":31,"r":"run 4","E":-820.13},{"t":32,"r":"run 4","E":-820.21},{"t":33,"r":"run 4","E":-820.34},{"t":34,"r":"run 4","E":-820.24},{"t":35,"r":"run 4","E":-820.26},{"t":36,"r":"run 4","E":-820.24},{"t":37,"r":"run 4","E":-820.28},{"t":38,"r":"run 4","E":-820.38},{"t":39,"r":"run 4","E":-820.36},{"t":40,"r":"run 4","E":-820.28},{"t":41,"r":"run 4","E":-820.17},{"t":42,"r":"run 4","E":-820.09},{"t":43,"r":"run 4","E":-820.07},{"t":44,"r":"run 4","E":-820.21},{"t":45,"r":"run 4","E":-820.32},{"t":46,"r":"run 4","E":-820.57},{"t":47,"r":"run 4","E":-820.81},{"t":48,"r":"run 4","E":-820.96},{"t":48.5,"r":"run 4","E":-821.05},{"t":49,"r":"run 4","E":-820.94},{"t":50,"r":"run 4","E":-820.79},{"t":51,"r":"run 4","E":-820.65},{"t":52,"r":"run 4","E":-820.67},{"t":53,"r":"run 4","E":-820.48},{"t":54,"r":"run 4","E":-820.21},{"t":55,"r":"run 4","E":-820.17},{"t":56,"r":"run 4","E":-820.21},{"t":57,"r":"run 4","E":-819.9},{"t":58,"r":"run 4","E":-819.79},{"t":59,"r":"run 4","E":-819.95},{"t":60,"r":"run 4","E":-820.05},{"t":61,"r":"run 4","E":-820.05},{"t":62,"r":"run 4","E":-819.8},{"t":63,"r":"run 4","E":-819.97},{"t":64,"r":"run 4","E":-819.88},{"t":65,"r":"run 4","E":-820.01},{"t":66,"r":"run 4","E":-819.93},{"t":67,"r":"run 4","E":-819.88},{"t":68,"r":"run 4","E":-819.93},{"t":69,"r":"run 4","E":-819.82},{"t":70,"r":"run 4","E":-819.97},{"t":71,"r":"run 4","E":-820.09},{"t":72,"r":"run 4","E":-820.26},{"t":73,"r":"run 4","E":-820.21},{"t":74,"r":"run 4","E":-820.17},{"t":75,"r":"run 4","E":-820.13},{"t":76,"r":"run 4","E":-820.17},{"t":77,"r":"run 4","E":-820.24},{"t":78,"r":"run 4","E":-820.26},{"t":79,"r":"run 4","E":-820.3},{"t":80,"r":"run 4","E":-820.28},{"t":81,"r":"run 4","E":-820.32},{"t":82,"r":"run 4","E":-820.3},{"t":83,"r":"run 4","E":-820.21},{"t":84,"r":"run 4","E":-820.11},{"t":85,"r":"run 4","E":-820.26},{"t":86,"r":"run 4","E":-820.32},{"t":87,"r":"run 4","E":-820.4},{"t":88,"r":"run 4","E":-820.44},{"t":89,"r":"run 4","E":-820.34},{"t":90,"r":"run 4","E":-820.38},{"t":91,"r":"run 4","E":-820.26},{"t":92,"r":"run 4","E":-820.21},{"t":93,"r":"run 4","E":-820.09},{"t":94,"r":"run 4","E":-820.07},{"t":95,"r":"run 4","E":-820.03},{"t":96,"r":"run 4","E":-820.01},{"t":97,"r":"run 4","E":-819.97},{"t":98,"r":"run 4","E":-820.07},{"t":99,"r":"run 4","E":-820.13},{"t":100,"r":"run 4","E":-820.24},
{"t":0,"r":"run 5","E":-818.88},{"t":0.3,"r":"run 5","E":-820.09},{"t":1,"r":"run 5","E":-820.4},{"t":2,"r":"run 5","E":-820.5},{"t":3,"r":"run 5","E":-820.46},{"t":4,"r":"run 5","E":-820.48},{"t":5,"r":"run 5","E":-820.55},{"t":6,"r":"run 5","E":-820.63},{"t":7,"r":"run 5","E":-820.75},{"t":8,"r":"run 5","E":-820.85},{"t":9,"r":"run 5","E":-820.75},{"t":10,"r":"run 5","E":-820.57},{"t":11,"r":"run 5","E":-820.55},{"t":12,"r":"run 5","E":-820.63},{"t":13,"r":"run 5","E":-820.36},{"t":14,"r":"run 5","E":-820.3},{"t":15,"r":"run 5","E":-820.23},{"t":16,"r":"run 5","E":-820.09},{"t":17,"r":"run 5","E":-820.01},{"t":18,"r":"run 5","E":-820.15},{"t":19,"r":"run 5","E":-820.21},{"t":20,"r":"run 5","E":-820.28},{"t":21,"r":"run 5","E":-820.3},{"t":22,"r":"run 5","E":-820.26},{"t":23,"r":"run 5","E":-820.23},{"t":24,"r":"run 5","E":-820.17},{"t":25,"r":"run 5","E":-820.15},{"t":26,"r":"run 5","E":-820.32},{"t":27,"r":"run 5","E":-820.44},{"t":28,"r":"run 5","E":-820.54},{"t":29,"r":"run 5","E":-820.34},{"t":30,"r":"run 5","E":-820.4},{"t":31,"r":"run 5","E":-820.4},{"t":32,"r":"run 5","E":-820.13},{"t":33,"r":"run 5","E":-820.13},{"t":34,"r":"run 5","E":-820.28},{"t":35,"r":"run 5","E":-820.36},{"t":36,"r":"run 5","E":-820.24},{"t":37,"r":"run 5","E":-819.97},{"t":38,"r":"run 5","E":-819.82},{"t":39,"r":"run 5","E":-819.86},{"t":40,"r":"run 5","E":-819.9},{"t":41,"r":"run 5","E":-820.05},{"t":42,"r":"run 5","E":-820.09},{"t":43,"r":"run 5","E":-820.01},{"t":44,"r":"run 5","E":-819.97},{"t":45,"r":"run 5","E":-819.95},{"t":46,"r":"run 5","E":-820.09},{"t":47,"r":"run 5","E":-820.13},{"t":48,"r":"run 5","E":-820.13},{"t":49,"r":"run 5","E":-820.15},{"t":50,"r":"run 5","E":-820.13},{"t":51,"r":"run 5","E":-820.32},{"t":52,"r":"run 5","E":-820.38},{"t":53,"r":"run 5","E":-820.26},{"t":54,"r":"run 5","E":-820.17},{"t":55,"r":"run 5","E":-820.26},{"t":56,"r":"run 5","E":-820.42},{"t":57,"r":"run 5","E":-820.63},{"t":58,"r":"run 5","E":-820.46},{"t":59,"r":"run 5","E":-820.34},{"t":60,"r":"run 5","E":-820.52},{"t":61,"r":"run 5","E":-820.63},{"t":62,"r":"run 5","E":-820.73},{"t":63,"r":"run 5","E":-820.46},{"t":64,"r":"run 5","E":-820.4},{"t":65,"r":"run 5","E":-820.32},{"t":66,"r":"run 5","E":-820.28},{"t":67,"r":"run 5","E":-820.26},{"t":68,"r":"run 5","E":-820.28},{"t":69,"r":"run 5","E":-820.32},{"t":70,"r":"run 5","E":-820.34},{"t":71,"r":"run 5","E":-820.48},{"t":72,"r":"run 5","E":-820.17},{"t":73,"r":"run 5","E":-820.07},{"t":74,"r":"run 5","E":-820.01},{"t":75,"r":"run 5","E":-820.09},{"t":76,"r":"run 5","E":-820.28},{"t":77,"r":"run 5","E":-820.34},{"t":78,"r":"run 5","E":-820.28},{"t":79,"r":"run 5","E":-820.24},{"t":80,"r":"run 5","E":-820.01},{"t":81,"r":"run 5","E":-819.92},{"t":82,"r":"run 5","E":-820.03},{"t":83,"r":"run 5","E":-820.09},{"t":84,"r":"run 5","E":-820.17},{"t":85,"r":"run 5","E":-819.88},{"t":86,"r":"run 5","E":-819.78},{"t":87,"r":"run 5","E":-819.7},{"t":88,"r":"run 5","E":-819.78},{"t":89,"r":"run 5","E":-819.82},{"t":90,"r":"run 5","E":-819.99},{"t":91,"r":"run 5","E":-820.21},{"t":92,"r":"run 5","E":-820.21},{"t":93,"r":"run 5","E":-819.93},{"t":94,"r":"run 5","E":-819.74},{"t":95,"r":"run 5","E":-819.6},{"t":96,"r":"run 5","E":-819.78},{"t":97,"r":"run 5","E":-820.01},{"t":98,"r":"run 5","E":-820.07},{"t":99,"r":"run 5","E":-820.23},{"t":100,"r":"run 5","E":-820.26}
]
},
"spacing": 124,
"bounds": "flush",
"resolve": {"legend": {"color": "independent"}},
"hconcat": [
  {
    "title": {"text": "(a)", "offset": 8},
    "width": 507,
    "height": 420,
    "data": {"name": "a"},
    "mark": {"type": "line", "strokeWidth": 2, "clip": true},
    "encoding": {
      "x": {"field": "t", "type": "quantitative", "scale": {"domain": [0, 100], "nice": false, "zero": false}, "axis": {"values": [0, 20, 40, 60, 80, 100], "title": "t/[ps]", "labelPadding": 4, "titlePadding": 0, "labelFlush": false}},
      "y": {"field": "E", "type": "quantitative", "scale": {"domain": [-814.467, -811.471], "nice": false, "zero": false}, "axis": {"values": [-811.5, -812, -812.5, -813, -813.5, -814], "format": ".1f", "title": "Eₜₒₜ/[eV]", "labelPadding": 6, "titlePadding": 5}},
      "color": {"field": "r", "type": "nominal", "scale": {"domain": ["run 1", "run 2", "run 3", "run 4", "run 5"], "range": ["#1f77b4", "#ff7f0e", "#2ca02c", "#d62728", "#9467bd"]}, "legend": {"orient": "none", "legendX": 378, "legendY": 12, "title": null}}
    }
  },
  {
    "title": {"text": "(b)", "offset": 15},
    "width": 506,
    "height": 420,
    "data": {"name": "b"},
    "mark": {"type": "line", "strokeWidth": 2, "clip": true},
    "encoding": {
      "x": {"field": "t", "type": "quantitative", "scale": {"domain": [0, 100], "nice": false, "zero": false}, "axis": {"values": [0, 20, 40, 60, 80, 100], "title": "t/[ps]", "labelPadding": 4, "titlePadding": 0, "labelFlush": false}},
      "y": {"field": "E", "type": "quantitative", "scale": {"domain": [-821.211, -818.769], "nice": false, "zero": false}, "axis": {"values": [-819, -819.5, -820, -820.5, -821], "format": ".1f", "title": "Eₚₒₜ/[eV]", "labelPadding": 6, "titlePadding": 5}},
      "color": {"field": "r", "type": "nominal", "scale": {"domain": ["run 1", "run 2", "run 3", "run 4", "run 5"], "range": ["#1f77b4", "#ff7f0e", "#2ca02c", "#d62728", "#9467bd"]}, "legend": {"orient": "none", "legendX": 9, "legendY": 12, "title": null}}
    }
  }
]
}
